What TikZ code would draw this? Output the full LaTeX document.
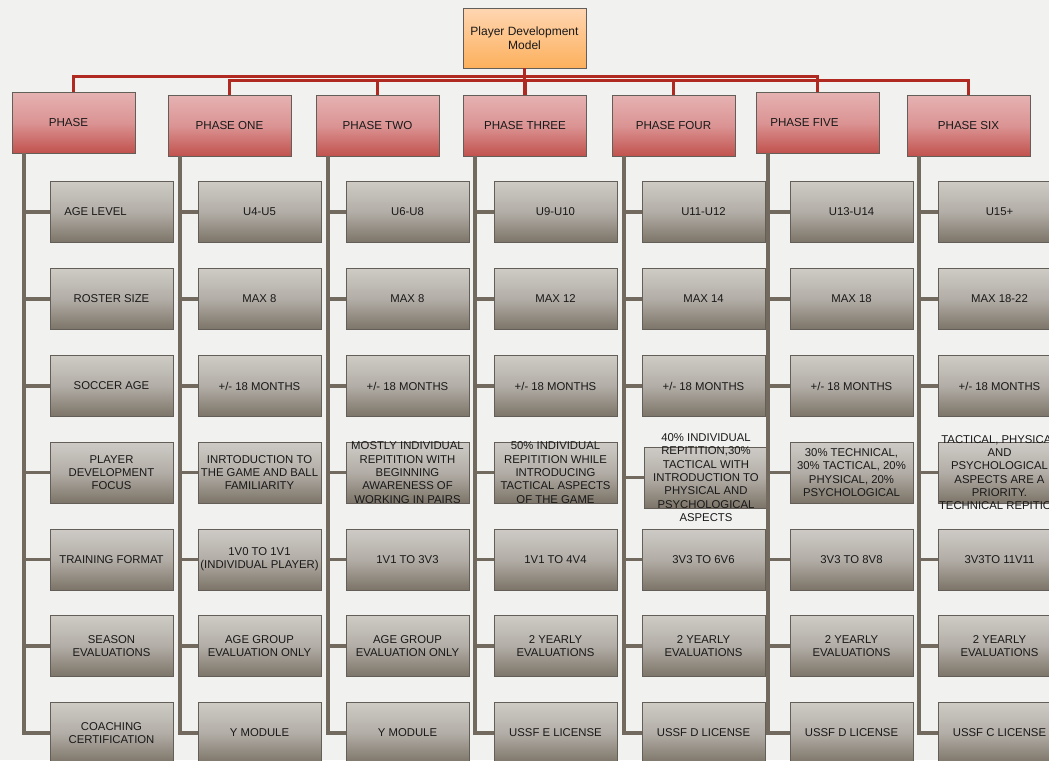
\documentclass[tikz,border=0pt]{standalone}
\usepackage{fontspec}
\setmainfont{Liberation Sans}
\usepackage{xcolor}
\usepackage{tikz}
\usetikzlibrary{positioning,calc}
\definecolor{paper}{RGB}{241,241,240}
\definecolor{modeltop}{RGB}{255,214,178}
\definecolor{modelbot}{RGB}{252,176,92}
\definecolor{phasetop}{RGB}{230,178,178}
\definecolor{phasemid}{RGB}{219,148,148}
\definecolor{phasebot}{RGB}{193,82,78}
\definecolor{itemtop}{RGB}{206,203,198}
\definecolor{itemmid}{RGB}{178,173,166}
\definecolor{itembot}{RGB}{124,116,104}
\definecolor{boxline}{RGB}{100,94,88}
\definecolor{busred}{RGB}{176,42,34}
\definecolor{linkgray}{RGB}{114,106,94}
\definecolor{ink}{RGB}{25,25,25}
\tikzstyle{modelbox} = [rectangle, draw=boxline, top color=modeltop, bottom color=modelbot, minimum width=92.25pt, minimum height=45pt, align=center, text=ink, font=\fontsize{9}{10.2}\selectfont]
\tikzstyle{phasebox} = [rectangle, draw=boxline, top color=phasetop, bottom color=phasebot, middle color=phasemid, minimum width=92.25pt, minimum height=45.75pt, text=ink, font=\fontsize{8.7}{10}\selectfont]
\tikzstyle{itembox} = [rectangle, draw=boxline, top color=itemtop, bottom color=itembot, middle color=itemmid, minimum width=92.25pt, minimum height=45.75pt, inner xsep=0pt, inner ysep=0pt, align=center, text=ink, font=\fontsize{8.5}{10}\selectfont]
\tikzstyle{overtext} = [align=center, inner sep=0pt, text=ink, font=\fontsize{8.5}{10}\selectfont]
\tikzstyle{bus} = [draw=busred, line width=2.4pt]
\tikzstyle{link} = [draw=linkgray, line width=2.8pt]

\begin{document}
\begin{tikzpicture}[x=0.75pt, y=-0.75pt]
    % Canvas
    \useasboundingbox (0,0) rectangle (1049,760);
    \clip (0,0) rectangle (1049,760);
    \fill[paper] (0,0) rectangle (1049,760);

    % Top box
    \node[modelbox] (model) at (524.5,38) {Player Development\\Model};

    % Phases
    \node[phasebox] (phase) at (73.5,122.5) {PHASE\hspace*{7.5pt}};
    \node[phasebox] (p1) at (229.5,125.5) {PHASE ONE};
    \node[phasebox] (p2) at (377.5,125.5) {PHASE TWO};
    \node[phasebox] (p3) at (525,125.5) {PHASE THREE};
    \node[phasebox] (p4) at (673.5,125.5) {PHASE FOUR};
    \node[phasebox] (p5) at (817.5,122.5) {PHASE FIVE\hspace*{19.5pt}};
    \node[phasebox] (p6) at (968.5,125.5) {PHASE SIX};

    % Red connectors
    \draw[bus] (model.south) -- ++(0,13);
    \draw[bus] (phase.north) -- ++(0,-15) -| (p5.north);
    \draw[bus] (p1.north) -- ++(0,-14) -| (p6.north);
    \draw[bus] (p2.north) -- ++(0,-14);
    \draw[bus] (p3.north) -- ++(0,-14);
    \draw[bus] (p4.north) -- ++(0,-14);

    % Column 0
    \node[itembox] (age0) at (111.5,212) {AGE LEVEL\hspace*{24pt}};
    \node[itembox] (roster0) at (111.5,299) {ROSTER SIZE};
    \node[itembox] (sage0) at (111.5,386) {SOCCER AGE};
    \node[itembox] (focus0) at (111.5,472.5) {PLAYER\\DEVELOPMENT\\FOCUS};
    \node[itembox] (format0) at (111.5,559.5) {TRAINING FORMAT};
    \node[itembox] (eval0) at (111.5,646) {SEASON\\EVALUATIONS};
    \node[itembox] (cert0) at (111.5,733) {COACHING\\CERTIFICATION};

    % Column 1
    \node[itembox] (age1) at (259.5,212) {U4-U5};
    \node[itembox] (roster1) at (259.5,299) {MAX 8};
    \node[itembox] (sage1) at (259.5,386) {+/- 18 MONTHS};
    \node[itembox] (focus1) at (259.5,472.5) {INRTODUCTION TO\\THE GAME AND BALL\\FAMILIARITY};
    \node[itembox] (format1) at (259.5,559.5) {1V0 TO 1V1\\(INDIVIDUAL PLAYER)};
    \node[itembox] (eval1) at (259.5,646) {AGE GROUP\\EVALUATION ONLY};
    \node[itembox] (cert1) at (259.5,733) {Y MODULE};

    % Column 2
    \node[itembox] (age2) at (407.5,212) {U6-U8};
    \node[itembox] (roster2) at (407.5,299) {MAX 8};
    \node[itembox] (sage2) at (407.5,386) {+/- 18 MONTHS};
    \node[itembox, label={[overtext]center:{MOSTLY INDIVIDUAL\\REPITITION WITH\\BEGINNING\\AWARENESS OF\\WORKING IN PAIRS}}] (focus2) at (407.5,472.5) {};
    \node[itembox] (format2) at (407.5,559.5) {1V1 TO 3V3};
    \node[itembox] (eval2) at (407.5,646) {AGE GROUP\\EVALUATION ONLY};
    \node[itembox] (cert2) at (407.5,733) {Y MODULE};

    % Column 3
    \node[itembox] (age3) at (555.5,212) {U9-U10};
    \node[itembox] (roster3) at (555.5,299) {MAX 12};
    \node[itembox] (sage3) at (555.5,386) {+/- 18 MONTHS};
    \node[itembox, label={[overtext]center:{50\% INDIVIDUAL\\REPITITION WHILE\\INTRODUCING\\TACTICAL ASPECTS\\OF THE GAME}}] (focus3) at (555.5,472.5) {};
    \node[itembox] (format3) at (555.5,559.5) {1V1 TO 4V4};
    \node[itembox] (eval3) at (555.5,646) {2 YEARLY\\EVALUATIONS};
    \node[itembox] (cert3) at (555.5,733) {USSF E LICENSE};

    % Column 4
    \node[itembox] (age4) at (703.5,212) {U11-U12};
    \node[itembox] (roster4) at (703.5,299) {MAX 14};
    \node[itembox] (sage4) at (703.5,386) {+/- 18 MONTHS};
    \node[itembox, label={[overtext]center:{40\% INDIVIDUAL\\REPITITION,30\%\\TACTICAL WITH\\INTRODUCTION TO\\PHYSICAL AND\\PSYCHOLOGICAL\\ASPECTS}}] (focus4) at (706,477.5) {};
    \node[itembox] (format4) at (703.5,559.5) {3V3 TO 6V6};
    \node[itembox] (eval4) at (703.5,646) {2 YEARLY\\EVALUATIONS};
    \node[itembox] (cert4) at (703.5,733) {USSF D LICENSE};

    % Column 5
    \node[itembox] (age5) at (851.5,212) {U13-U14};
    \node[itembox] (roster5) at (851.5,299) {MAX 18};
    \node[itembox] (sage5) at (851.5,386) {+/- 18 MONTHS};
    \node[itembox] (focus5) at (851.5,472.5) {30\% TECHNICAL,\\30\% TACTICAL, 20\%\\PHYSICAL, 20\%\\PSYCHOLOGICAL};
    \node[itembox] (format5) at (851.5,559.5) {3V3 TO 8V8};
    \node[itembox] (eval5) at (851.5,646) {2 YEARLY\\EVALUATIONS};
    \node[itembox] (cert5) at (851.5,733) {USSF D LICENSE};

    % Column 6
    \node[itembox] (age6) at (999.5,212) {U15+};
    \node[itembox] (roster6) at (999.5,299) {MAX 18-22};
    \node[itembox] (sage6) at (999.5,386) {+/- 18 MONTHS};
    \node[itembox, label={[overtext]center:{TACTICAL, PHYSICAL\\AND\\PSYCHOLOGICAL\\ASPECTS ARE A\\PRIORITY.\\TECHNICAL REPITION}}] (focus6) at (999.5,472.5) {};
    \node[itembox] (format6) at (999.5,559.5) {3V3TO 11V11};
    \node[itembox] (eval6) at (999.5,646) {2 YEARLY\\EVALUATIONS};
    \node[itembox] (cert6) at (999.5,733) {USSF C LICENSE};

    % Trunks
    \coordinate (t0) at ($(phase.south west)+(12,0)$);
    \coordinate (t1) at ($(p1.south west)+(12,0)$);
    \coordinate (t2) at ($(p2.south west)+(12,0)$);
    \coordinate (t3) at ($(p3.south west)+(12,0)$);
    \coordinate (t4) at ($(p4.south west)+(12,0)$);
    \coordinate (t5) at ($(p5.south west)+(12,0)$);
    \coordinate (t6) at ($(p6.south west)+(12,0)$);
    \draw[link] (t0) |- (cert0.west);
    \draw[link] (t1) |- (cert1.west);
    \draw[link] (t2) |- (cert2.west);
    \draw[link] (t3) |- (cert3.west);
    \draw[link] (t4) |- (cert4.west);
    \draw[link] (t5) |- (cert5.west);
    \draw[link] (t6) |- (cert6.west);

    % Branches
    \draw[link] (t0 |- age0.west) -- (age0.west);
    \draw[link] (t0 |- roster0.west) -- (roster0.west);
    \draw[link] (t0 |- sage0.west) -- (sage0.west);
    \draw[link] (t0 |- focus0.west) -- (focus0.west);
    \draw[link] (t0 |- format0.west) -- (format0.west);
    \draw[link] (t0 |- eval0.west) -- (eval0.west);
    \draw[link] (t1 |- age1.west) -- (age1.west);
    \draw[link] (t1 |- roster1.west) -- (roster1.west);
    \draw[link] (t1 |- sage1.west) -- (sage1.west);
    \draw[link] (t1 |- focus1.west) -- (focus1.west);
    \draw[link] (t1 |- format1.west) -- (format1.west);
    \draw[link] (t1 |- eval1.west) -- (eval1.west);
    \draw[link] (t2 |- age2.west) -- (age2.west);
    \draw[link] (t2 |- roster2.west) -- (roster2.west);
    \draw[link] (t2 |- sage2.west) -- (sage2.west);
    \draw[link] (t2 |- focus2.west) -- (focus2.west);
    \draw[link] (t2 |- format2.west) -- (format2.west);
    \draw[link] (t2 |- eval2.west) -- (eval2.west);
    \draw[link] (t3 |- age3.west) -- (age3.west);
    \draw[link] (t3 |- roster3.west) -- (roster3.west);
    \draw[link] (t3 |- sage3.west) -- (sage3.west);
    \draw[link] (t3 |- focus3.west) -- (focus3.west);
    \draw[link] (t3 |- format3.west) -- (format3.west);
    \draw[link] (t3 |- eval3.west) -- (eval3.west);
    \draw[link] (t4 |- age4.west) -- (age4.west);
    \draw[link] (t4 |- roster4.west) -- (roster4.west);
    \draw[link] (t4 |- sage4.west) -- (sage4.west);
    \draw[link] (t4 |- focus4.west) -- (focus4.west);
    \draw[link] (t4 |- format4.west) -- (format4.west);
    \draw[link] (t4 |- eval4.west) -- (eval4.west);
    \draw[link] (t5 |- age5.west) -- (age5.west);
    \draw[link] (t5 |- roster5.west) -- (roster5.west);
    \draw[link] (t5 |- sage5.west) -- (sage5.west);
    \draw[link] (t5 |- focus5.west) -- (focus5.west);
    \draw[link] (t5 |- format5.west) -- (format5.west);
    \draw[link] (t5 |- eval5.west) -- (eval5.west);
    \draw[link] (t6 |- age6.west) -- (age6.west);
    \draw[link] (t6 |- roster6.west) -- (roster6.west);
    \draw[link] (t6 |- sage6.west) -- (sage6.west);
    \draw[link] (t6 |- focus6.west) -- (focus6.west);
    \draw[link] (t6 |- format6.west) -- (format6.west);
    \draw[link] (t6 |- eval6.west) -- (eval6.west);
\end{tikzpicture}
\end{document}
